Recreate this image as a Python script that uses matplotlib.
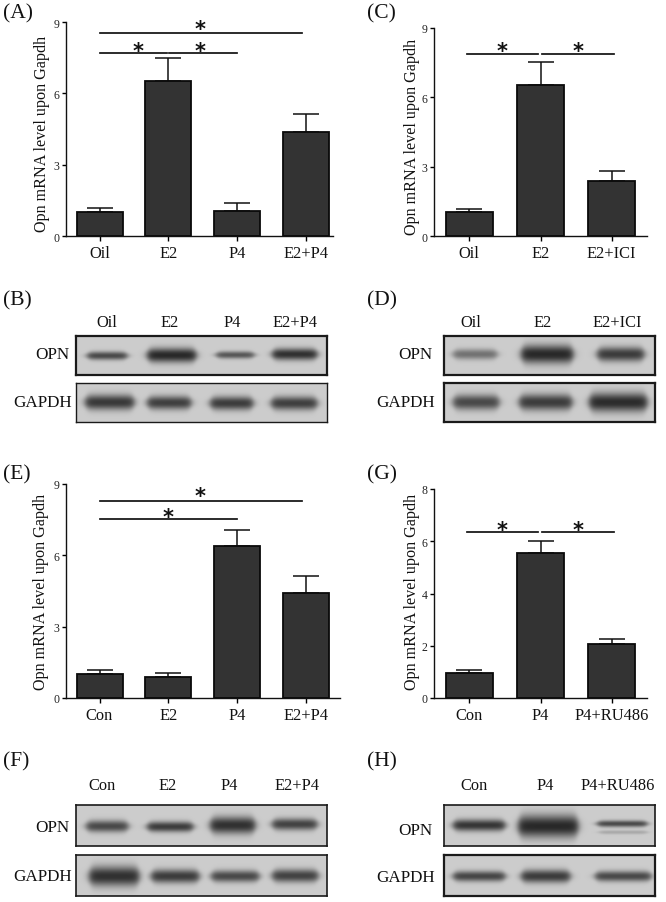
import numpy as np
import matplotlib
matplotlib.use("Agg")
import matplotlib.pyplot as plt

plt.rcParams['font.family'] = ['Liberation Serif', 'DejaVu Serif']

W, H = 666, 903
YLABEL = "Opn mRNA level upon Gapdh"

# ---- bar data
labels_a = ["Oil", "E2", "P4", "E2+P4"]
means_a = [1.0, 6.52, 1.06, 4.39]
tops_a = [1.19, 7.49, 1.38, 5.12]

labels_c = ["Oil", "E2", "E2+ICI"]
means_c = [1.03, 6.54, 2.4]
tops_c = [1.19, 7.52, 2.8]

labels_e = ["Con", "E2", "P4", "E2+P4"]
means_e = [1.0, 0.88, 6.39, 4.4]
tops_e = [1.19, 1.07, 7.05, 5.12]

labels_g = ["Con", "P4", "P4+RU486"]
means_g = [0.97, 5.55, 2.07]
tops_g = [1.06, 6.0, 2.27]

# ---- blot band data: left, right, centre y, half height, darkness (pixels of the blot)
b_opn = [(84, 130, 356.5, 3.2, .80), (144, 199, 356, 5.5, 1.0), (213, 257, 355.7, 2.8, .72), (269, 320, 355, 4.5, .95)]
b_gap = [(82, 137, 403, 5.8, .90), (144, 194, 403.5, 5.2, .86), (207, 256, 404, 5.2, .88), (268, 320, 404, 5.2, .86)]
d_opn = [(450, 500, 355, 4.0, .55), (518, 576, 355, 7.0, 1.0), (594, 647, 355, 5.5, .88)]
d_gap = [(450, 502, 403, 5.8, .80), (516, 575, 403, 6.2, .88), (586, 650, 403, 7.2, .98)]
f_opn = [(83, 131, 827, 4.5, .80), (144, 196, 827.5, 4.0, .88), (207, 258, 826, 6.5, .95), (269, 320, 825, 4.5, .84)]
f_gap = [(86, 142, 877, 7.5, .95), (148, 202, 877, 5.2, .88), (208, 262, 877, 4.5, .80), (269, 321, 876.5, 5.0, .84)]
h_opn = [(450, 508, 826, 4.5, .92), (515, 581, 827, 8.5, 1.0), (594, 650, 824.5, 2.5, .80), (596, 650, 833, 1.5, .22)]
h_gap = [(450, 508, 877, 4.0, .82), (518, 573, 877, 5.0, .88), (592, 654, 877, 4.0, .80)]

lane_b = ["Oil", "E2", "P4", "E2+P4"]
lane_d = ["Oil", "E2", "E2+ICI"]
lane_f = ["Con", "E2", "P4", "E2+P4"]
lane_h = ["Con", "P4", "P4+RU486"]

fig = plt.figure(figsize=(W / 100, H / 100), dpi=100, facecolor="white")


def px_axes(left, top, right, bottom):
    return fig.add_axes([left / W, 1 - bottom / H, (right - left) / W, (bottom - top) / H])


def ftext(x, y, s, **kw):
    kw.setdefault("ha", "center")
    kw.setdefault("va", "center")
    kw.setdefault("color", "#111111")
    fig.text(x / W, 1 - y / H, s, **kw)


def hline(x0, x1, y):
    fig.add_artist(plt.Line2D([x0 / W, x1 / W], [1 - y / H, 1 - y / H], color="#111111", lw=1.25))


def star(x, y):
    # y = centre of the glyph in pixels; an asterisk sits high in its text box
    ftext(x, y + 5.5, "*", fontsize=15, fontweight="bold", family="DejaVu Sans")


def bar_panel(labels, means, tops, left, right, top, bottom, c0, c1, ymax, yticks, width):
    ax = px_axes(left, top, right, bottom)
    x = np.arange(len(labels))
    sp = (c1 - c0) / (len(labels) - 1)
    ax.set_xlim((left - c0) / sp, (right - c0) / sp)
    ax.set_ylim(0, ymax)
    err = np.array(tops) - np.array(means)
    ax.errorbar(x, means, yerr=[np.zeros_like(err), err], fmt="none", ecolor="#111111",
                elinewidth=1.1, capsize=9.5, capthick=1.1, zorder=1)
    ax.bar(x, means, width=width / sp, color="#333333", edgecolor="#0a0a0a", linewidth=1.3, zorder=2)
    for s in ("top", "right"):
        ax.spines[s].set_visible(False)
    for s in ("left", "bottom"):
        ax.spines[s].set_linewidth(1.0)
        ax.spines[s].set_color("#111111")
    ax.set_xticks(x, labels, fontsize=11.8, color="#111111")
    ax.set_yticks(yticks)
    ax.tick_params(axis="x", length=3.5, width=1, pad=3)
    ax.tick_params(axis="y", length=3, width=1, pad=1.5, labelsize=8.5, labelcolor="#222222")
    return ax


def blot(bands, x0, x1, y0, y1, lw=1.4):
    ax = px_axes(x0, y0, x1, y1)
    xs = np.arange(x0, x1, 0.5)
    ys = np.arange(y0, y1, 0.5)
    X, Y = np.meshgrid(xs, ys)
    d = np.zeros_like(X)
    for l, r, c, h, dark in bands:
        prof = 0.5 * (np.tanh((X - l - 3) / 4.0) - np.tanh((X - r + 3) / 4.0))
        # band is thicker mid-lane than at its ends
        halfh = h * 1.3 * (0.55 + 0.45 * prof)
        band = dark * prof * np.exp(-(np.abs(Y - c) / halfh) ** 2.2)
        d = np.maximum(d, band)
    img = 0.80 * (1 - d) + 0.16 * d
    ax.imshow(img, extent=(x0, x1, y1, y0), aspect="auto", cmap="gray", vmin=0, vmax=1,
              interpolation="bilinear")
    ax.set_xticks([])
    ax.set_yticks([])
    for s in ax.spines.values():
        s.set_linewidth(lw)
        s.set_color("#1a1a1a")
    return ax


# ---- bar panels
bar_panel(labels_a, means_a, tops_a, 66, 333, 23, 237.3, 99.5, 306, 9, [0, 3, 6, 9], 46)
bar_panel(labels_c, means_c, tops_c, 434, 647, 28.5, 237.3, 469.3, 611.7, 9, [0, 3, 6, 9], 47)
bar_panel(labels_e, means_e, tops_e, 66, 340, 485, 699, 99.5, 306, 9, [0, 3, 6, 9], 46)
bar_panel(labels_g, means_g, tops_g, 434, 647, 490, 699, 469.3, 611.7, 8, [0, 2, 4, 6, 8], 47)

# ---- y labels
ftext(42, 134, YLABEL, rotation=90, fontsize=11.6)
ftext(412, 137, YLABEL, rotation=90, fontsize=11.6)
ftext(41, 592, YLABEL, rotation=90, fontsize=11.6)
ftext(412, 592, YLABEL, rotation=90, fontsize=11.6)

# ---- significance
hline(100, 302, 33.5); star(200, 25)
hline(100, 167, 54); hline(169, 237, 54); star(138, 47); star(200, 47)
hline(467, 538, 55); hline(542, 614, 55); star(502, 47); star(578, 47)
hline(100, 302, 502); star(200, 492)
hline(100, 237, 520); star(168, 513)
hline(467, 538, 533); hline(542, 614, 533); star(502, 526); star(578, 526)

# ---- blots
blot(b_opn, 76, 327, 337, 376, 1.6)
blot(b_gap, 76, 327, 384, 423, 1.0)
blot(d_opn, 444, 655, 337, 376, 1.6)
blot(d_gap, 444, 655, 384, 423, 1.6)
blot(f_opn, 76, 327, 806, 847, 1.2)
blot(f_gap, 76, 327, 856, 897, 1.2)
blot(h_opn, 444, 655, 806, 847, 1.2)
blot(h_gap, 444, 655, 856, 897, 1.6)

for name, xs, y in [(lane_b, [107, 170, 232, 295], 323), (lane_d, [471, 543, 617], 323),
                    (lane_f, [102, 168, 229, 297], 786), (lane_h, [474, 545, 618], 786)]:
    for s, x in zip(name, xs):
        ftext(x, y, s, fontsize=11.8)

for x, y, s in [(70, 355, "OPN"), (72.5, 403, "GAPDH"), (433, 355, "OPN"), (435, 403, "GAPDH"),
                (70, 828, "OPN"), (72.5, 877, "GAPDH"), (433, 831, "OPN"), (435, 878, "GAPDH")]:
    ftext(x, y, s, ha="right", fontsize=12.3)

# ---- panel letters
for x, y, s in [(3, 14, "(A)"), (367, 14, "(C)"), (3, 301, "(B)"), (367, 301, "(D)"),
                (3, 475, "(E)"), (367, 475, "(G)"), (3, 762, "(F)"), (367, 762, "(H)")]:
    ftext(x, y, s, ha="left", fontsize=15.5)

fig.savefig("out.png", dpi=100, facecolor="white")
